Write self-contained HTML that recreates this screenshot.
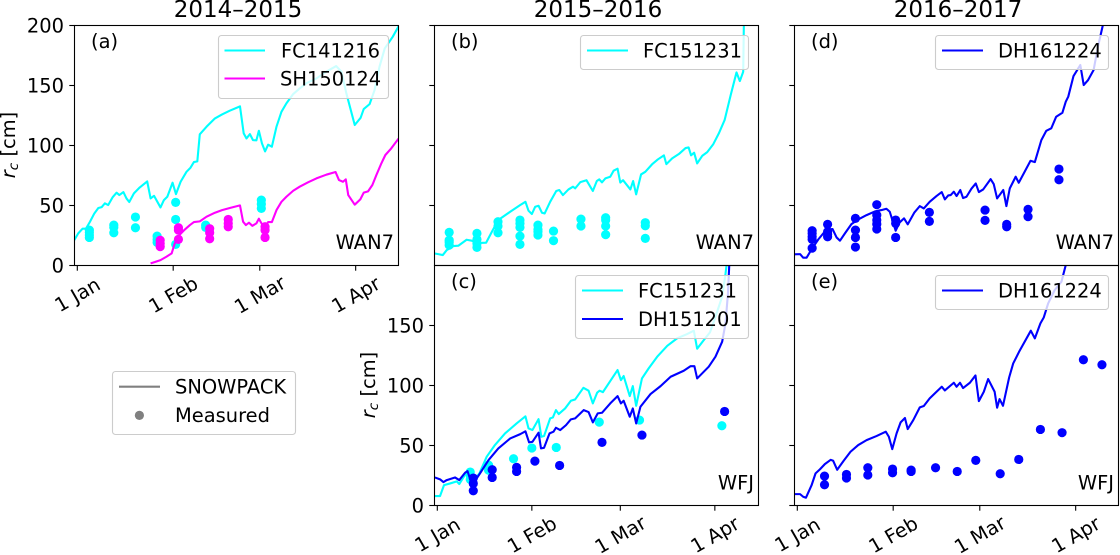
<!DOCTYPE html>
<html lang="en">
<head>
<meta charset="utf-8">
<title>Snow depth comparison</title>
<style>
html,body{margin:0;padding:0;background:#fff;width:1120px;height:555px;overflow:hidden}
svg{display:block}
text{font-family:"DejaVu Sans",sans-serif;font-size:19.44px;fill:#000}
.title{font-size:23px;text-anchor:middle}
.frame{fill:none;stroke:#000;stroke-width:1.1}
.legend-box{fill:#fff;fill-opacity:.8;stroke:#ccc;stroke-width:1.1}
.legend-line{stroke-width:2.1;fill:none}
.site{text-anchor:end}
</style>
</head>
<body>
<svg xmlns="http://www.w3.org/2000/svg" width="1120" height="555" viewBox="0 0 1120 555">
<defs>
<clipPath id="clip-a"><rect x="74.5" y="25.5" width="324" height="240"/></clipPath>
<clipPath id="clip-b"><rect x="434.5" y="25.5" width="324" height="240"/></clipPath>
<clipPath id="clip-d"><rect x="794.5" y="25.5" width="324" height="240"/></clipPath>
<clipPath id="clip-c"><rect x="434.5" y="265.5" width="324" height="240"/></clipPath>
<clipPath id="clip-e"><rect x="794.5" y="265.5" width="324" height="240"/></clipPath>
</defs>

<text class="title" x="238" y="17">2014–2015</text>
<text class="title" x="598" y="17">2015–2016</text>
<text class="title" x="958" y="17">2016–2017</text>

<g id="marks-a" clip-path="url(#clip-a)"></g>
<g id="marks-b" clip-path="url(#clip-b)"></g>
<g id="marks-d" clip-path="url(#clip-d)"></g>
<g id="marks-c" clip-path="url(#clip-c)"></g>
<g id="marks-e" clip-path="url(#clip-e)"></g>

<g id="axes-layer"></g>

<rect class="frame" x="74.5" y="25.5" width="324" height="240"/>
<rect class="frame" x="434.5" y="25.5" width="324" height="240"/>
<rect class="frame" x="794.5" y="25.5" width="324" height="240"/>
<rect class="frame" x="434.5" y="265.5" width="324" height="240"/>
<rect class="frame" x="794.5" y="265.5" width="324" height="240"/>

<text x="91" y="48">(a)</text>
<text x="451" y="48">(b)</text>
<text x="811" y="48">(d)</text>
<text x="451" y="288">(c)</text>
<text x="811" y="288">(e)</text>

<text class="site" x="394" y="249">WAN7</text>
<text class="site" x="754" y="249">WAN7</text>
<text class="site" x="1114" y="249">WAN7</text>
<text class="site" x="754" y="489.5">WFJ</text>
<text class="site" x="1114" y="489.5">WFJ</text>

<text transform="translate(15,145) rotate(-90)" text-anchor="middle"><tspan font-style="italic">r</tspan><tspan font-style="italic" font-size="13.6" dy="3">c</tspan><tspan dy="-3"> [cm]</tspan></text>
<text transform="translate(375,385) rotate(-90)" text-anchor="middle"><tspan font-style="italic">r</tspan><tspan font-style="italic" font-size="13.6" dy="3">c</tspan><tspan dy="-3"> [cm]</tspan></text>

<g>
<rect class="legend-box" x="218.5" y="35.5" width="170" height="63" rx="3"/>
<line class="legend-line" x1="224.5" x2="265" y1="50.5" y2="50.5" stroke="#00ffff"/>
<text x="281" y="57.5">FC141216</text>
<line class="legend-line" x1="224.5" x2="265" y1="78.5" y2="78.5" stroke="#ff00ff"/>
<text x="280" y="85.5">SH150124</text>
</g>
<g>
<rect class="legend-box" x="580.5" y="35.5" width="168" height="34" rx="3"/>
<line class="legend-line" x1="587" x2="628" y1="50.5" y2="50.5" stroke="#00ffff"/>
<text x="643" y="57.5">FC151231</text>
</g>
<g>
<rect class="legend-box" x="935.5" y="35.5" width="173" height="34" rx="3"/>
<line class="legend-line" x1="942" x2="983" y1="50.5" y2="50.5" stroke="#0000ff"/>
<text x="998" y="57.5">DH161224</text>
</g>
<g>
<rect class="legend-box" x="575.5" y="275.5" width="173" height="63" rx="3"/>
<line class="legend-line" x1="582" x2="623" y1="290.5" y2="290.5" stroke="#00ffff"/>
<text x="638" y="297.5">FC151231</text>
<line class="legend-line" x1="582" x2="623" y1="319" y2="319" stroke="#0000ff"/>
<text x="638" y="326">DH151201</text>
</g>
<g>
<rect class="legend-box" x="935.5" y="275.5" width="173" height="34" rx="3"/>
<line class="legend-line" x1="942" x2="983" y1="290.5" y2="290.5" stroke="#0000ff"/>
<text x="998" y="297.5">DH161224</text>
</g>
<g>
<rect class="legend-box" x="112.5" y="371.5" width="183" height="63" rx="3"/>
<line class="legend-line" x1="119" x2="160" y1="386.7" y2="386.7" stroke="#808080"/>
<text x="175" y="393.5">SNOWPACK</text>
<circle cx="139.4" cy="415.4" r="4.6" fill="#808080"/>
<text x="175" y="422">Measured</text>
</g>
</svg>

<script>
const xTickLabels = ['1 Jan', '1 Feb', '1 Mar', '1 Apr'];
const xTickDaysNormal = [0, 31, 59, 90];
const xTickDaysLeap = [0, 31, 60, 91];
const yTickValues = [0, 50, 100, 150, 200];

const aFcDays = [-1,0.3,1.7,2.8,4.1,5.5,6.8,7.9,8.9,10,11.4,12.7,13.6,14.9,15.9,16.8,18.3,20.2,22.6,23.7,24.8,26.9,28,29.1,30.8,31.9,33.4,35.3,36.6,37.7,38.8,39.6,41.8,44.5,46.8,49.3,52.6,53.8,54.7,55.8,56.8,57.9,58.7,59.7,60.7,61.7,62.9,64.4,66,67.6,69.8,71.9,74,77.3,80.5,83.7,85.4,87,89.7,91.6,92.6,94.5,96.1,97.7,99.4,102,103.9];
const aFcVals = [21,26.7,30.6,30.6,36.4,43.3,47.8,48.6,51.7,50.3,56.7,60.6,58.6,61.1,55.8,52.8,60,65,70,55.8,58,48.3,54.4,57.2,68.9,59.4,69.7,78,81.4,86.1,86.7,109.2,115.6,122.5,125.8,128.9,132.5,110,105.8,109.4,104.4,104.2,112.2,101.7,95,100.6,98.9,115.6,128,135,142.8,147.5,151.7,155.8,161.4,166.1,161.4,143.3,117,123,130.3,134.4,146,165.6,180.8,190.6,199.4];
const aShDays = [23.7,25.1,26.9,28.8,30.5,31.5,33.2,34.8,36.4,37.7,39.6,41.8,44.5,46.8,49.3,52.6,53.6,54.5,55.5,56.6,57.9,58.7,59.7,60.7,61.7,62.9,64.4,66,67.6,69.8,71.9,74.6,77.3,80.5,83.5,84.6,85.9,86.8,87.6,89.7,91.5,92.6,94,95.4,96.7,98.3,99.6,101.5,103.9];
const aShVals = [1.7,2.8,4.4,7.2,10,18.3,25.8,30,33.6,36.1,36.7,40.6,43.9,46.1,47.8,50,36.4,33.6,35.6,33,35,38.9,34.4,32.2,36.1,36.1,46.1,53,57.2,62.2,65.6,69.2,72.5,75.6,77.8,71.1,69.7,71.7,58.6,50.6,55,60.6,61.7,67,75.3,85,92,97.5,105.8];
const aFcPointDays = [3.9,3.9,3.9,3.9,11.8,11.8,11.8,18.8,18.8,25.8,25.8,25.8,31.8,31.8,31.8,41.5,41.5,59.5,59.5,59.5];
const aFcPointVals = [29.4,27.5,25.3,23.3,33.6,31.7,27.2,40.3,31.4,24.4,21.7,19.2,52.5,38.3,17.5,33.6,31.7,54.4,51.1,47.5];
const aShPointDays = [26.8,26.8,26.8,32.7,32.7,32.7,42.8,42.8,42.8,48.8,48.8,48.8,60.7,60.7,60.7];
const aShPointVals = [21,18.3,15.6,31.4,29.4,21.7,30.6,27.2,22.2,38.3,35,32.2,32.2,29.4,23.3];

const bFcDays = [-1,0.3,1.8,3.1,5.3,6.9,9.6,11.3,12.9,16,17.9,20,23.9,27.2,28.9,29.9,31,32.1,33.2,34.3,35.2,37,39,40,41.2,43,44.5,45.2,46.9,48.9,51,52.3,53.1,54,55.1,56.7,57.8,59.1,60,60.9,63.3,64.2,65.2,66.8,68.2,70.4,72.3,74.3,75.1,77,79.2,81.4,82.4,83.2,84.2,85.2,86.9,88.5,90.5,92.3,94.2,96.2,98.1,99.2,100.3,100.5,100.8];
const bFcVals = [10,9.4,8.6,12.8,16.1,16.4,21.4,20.6,18.6,18.9,28,37.8,44.7,50.3,53,45.6,42.8,48.9,49.7,43.9,43.3,53,62,62.8,58.6,63.3,65.6,64.2,69.4,71,62,70.3,71.7,69.2,72.5,73.9,78.9,80.6,69,71,63.3,70.3,59.2,75.8,78,84.2,88.3,91.7,84.4,89.2,92.8,97.8,98.3,91.7,93.9,85,91.4,94.4,101.1,110,121.1,142,160.8,153.6,161.4,199,215];
const bFcPointDays = [3.9,3.9,3.9,3.9,13,13,13,13,19.9,19.9,19.9,27.1,27.1,27.1,27.1,27.1,33,33,33,33,38.1,38.1,47.1,47.1,55.2,55.2,55.2,55.2,68.2,68.2,68.2];
const bFcPointVals = [27.5,21.1,19.4,16.9,26.7,21.7,18.3,15,36.4,32.8,27.2,37.8,35,31.7,24.4,17.5,33.6,30,28,25.3,28.6,20.6,38.6,32.8,39.7,37.8,32.8,25.6,35.6,33,22.5];

const dDhDays = [-1,0.9,1.9,3,4.6,6.8,8.4,10,11.4,12.7,13.8,15.4,17.5,19.7,22.4,25.1,27.2,28.8,29.9,31.8,33,34.5,35.7,37.8,39.6,40.9,42.8,45,46.7,47.7,48.8,49.6,50.6,51.5,52.7,53.6,54.7,56.3,57.7,58.7,60.1,62.5,63.5,64.6,66.6,67.6,68.7,70.6,71.6,73.5,75.4,76.8,78.9,80.5,82.1,83.7,85.7,86.8,87.6,89.3,91.5,92.6,94,95.8,97.2,98.8,99.9];
const dDhVals = [9.2,9.4,6.4,6.4,13.3,21.7,26.7,30,30.3,23.3,20.6,26.7,34.4,38.3,41.9,45,46.1,47.2,44.7,28.9,35.6,39.2,34.2,43.9,49.4,47.5,53,57.8,61.1,55,58.3,58.6,61.4,57.8,62.8,56.1,57.2,63.9,68.3,61.1,63.3,71.9,67.8,55.8,62.8,49.4,64.2,73.9,68.9,78,87.2,86.1,104.4,112.2,114.2,123.9,127.2,136.4,140.6,157.8,167,150.3,154.4,162.8,182.2,200.3,212.8];
const dDhPointDays = [4.8,4.8,4.8,4.8,4.8,9.8,9.8,9.8,9.8,18.8,18.8,18.8,18.8,25.7,25.7,25.7,25.7,25.7,31.8,31.8,31.8,42.7,42.7,60.7,60.7,67.7,67.7,74.6,74.6,84.6,84.6];
const dDhPointVals = [28.9,26.7,23.9,21.7,14.4,34.2,28,26,23.9,39.2,29.4,23.3,15.3,50.6,41.9,37.8,34.4,30.3,37.8,35,23.3,44.2,36.7,46.1,37.5,34.2,32.2,46.7,40.6,80.3,71.4];

const cFcDays = [-0.8,0.9,2.2,4.2,6.4,7.2,9.4,10.7,12.2,13.8,16.2,18.9,22.2,26,28.9,29.9,31.2,33.2,34.1,35,37,37.9,38.9,39.8,41.9,43.8,45.2,47.9,49.6,51,52.4,53.2,54.3,56.7,59.1,60.2,61.1,63.1,64.1,65.2,67.1,69.3,72.1,75.4,78.6,81.9,84.1,85.2,87.4,89.4,91.2,93.4,94.5,94.9,95.1];
const cFcVals = [7.8,7.8,16.9,18.3,20,17.8,26.7,29.4,21.7,26.7,40.6,50.3,60,68.3,74.2,64.2,62.8,71.9,57.2,57.8,72.5,73.3,79.4,76.1,80.8,87.2,88.3,98,95.6,85,93.9,95.6,94.4,103.6,112.8,104.4,107.8,91.1,99.4,83,105.8,114.2,123.9,133,139.2,142.8,145.6,130.6,137.8,144.2,157.2,173.9,193,201.7,210];
const cDhDays = [-0.8,0.9,2,3.1,5.8,7.2,9.1,9.9,11.3,12.4,14,16.8,20,23.9,27.2,28.9,30.1,31.2,33.2,34,35,36.8,38.1,38.9,40.3,42.2,43.8,45.2,48,49.6,51,52.6,54,56.7,59.1,60.2,61.1,63.1,64.1,65.2,66.6,69.9,73.2,76.5,80.8,83,84.3,85.2,89,91.2,93.4,94.5,95.3,95.7,96];
const cDhVals = [23.3,21.7,19.4,21.1,23.3,21.1,27.2,28.6,17.8,20.6,26.7,37.8,47.5,55.8,59.4,61.7,52.5,53,60.6,47.5,48,60,61.4,64.7,62.8,66.9,71.7,72.5,79.4,77.8,69.2,76.7,77.2,85,91.1,85,87.2,73.9,80.8,68.3,82.2,92.8,99.4,107.2,112.2,116,116,105.8,115.6,123.9,136.4,151.7,176.7,199,210];
const cFcPointDays = [10.8,10.8,10.8,16.8,16.8,25,31,39,53.1,66.3,93.3];
const cFcPointVals = [27.8,25,21.7,33.6,29.4,38.9,47.8,48.3,69.4,71.1,66.4];
const cDhPointDays = [11.8,11.8,11.8,18,18,26,26,32,40.1,54,67.1,94.2];
const cDhPointVals = [22.8,18.3,12.2,29.7,23.3,31.7,28.3,36.9,33.3,52.5,58.6,78.3];

const eDhDays = [-1,0.9,1.9,2.8,4.6,5.9,7.3,8.9,10.8,11.6,12.9,14.9,17.2,19.7,22.4,25.6,28.6,29.6,30.7,32.1,33.4,34.8,35.7,37.5,39.6,40.9,42.8,44.8,46.7,47.7,50.6,51.5,52.6,53.6,55.8,57.6,58.7,60.3,61.7,63.8,64.6,65.4,66.5,68.5,69.8,71.7,75.5,76.8,78.6,79.7,81.1,83.2,85.4,86.8,87.5];
const eDhVals = [9.4,9.4,7.2,6.4,16.7,26.7,30,34.4,38,37.2,29.7,36.9,44.7,50.3,54.4,57.8,61.4,57.2,46.9,60,69.2,72.8,63.6,71.1,81.7,82.8,89.2,94.2,98.9,95.8,102.2,98.9,102.2,97.8,102.2,108.3,86.9,94.7,105.3,94.7,81.4,88.6,83,106.7,118.3,128,145.6,139.2,151.7,156.7,168.3,179.4,186.4,200.3,207];
const eDhPointDays = [8.8,8.8,15.9,15.9,22.8,22.8,30.8,30.8,36.8,36.8,44.7,51.7,57.7,65.6,71.6,78.6,85.6,92.5,98.5];
const eDhPointVals = [24.4,17.2,25.8,22.8,31.4,25.3,30.3,27.2,29.4,28.3,31.4,28.3,37.5,26.4,38.3,63.3,60.6,121.4,117.2];

const SVG_NS = 'http://www.w3.org/2000/svg';

function makeXAxis(tickPixelOfJan1, pxPerDay) {
  return function (day) { return tickPixelOfJan1 + day * pxPerDay; };
}
function makeYAxis(zeroPixel) {
  return function (value) { return zeroPixel - value * 1.2; };
}

function drawLine(groupId, days, vals, color, xAxis, yAxis, name) {
  const points = days.map(function (d, i) {
    return xAxis(d).toFixed(2) + ',' + yAxis(vals[i]).toFixed(2);
  }).join(' ');
  const el = document.createElementNS(SVG_NS, 'polyline');
  el.setAttribute('points', points);
  el.setAttribute('fill', 'none');
  el.setAttribute('stroke', color);
  el.setAttribute('stroke-width', '2.1');
  el.setAttribute('stroke-linejoin', 'round');
  
  
  document.getElementById(groupId).appendChild(el);
}

function drawPoints(groupId, days, vals, color, xAxis, yAxis, name) {
  days.forEach(function (d, i) {
    const el = document.createElementNS(SVG_NS, 'circle');
    el.setAttribute('cx', xAxis(d).toFixed(2));
    el.setAttribute('cy', yAxis(vals[i]).toFixed(2));
    el.setAttribute('r', '4.6');
    el.setAttribute('fill', color);
    
    
    document.getElementById(groupId).appendChild(el);
  });
}

function drawXTicks(days, xAxis, bottom, withLabels) {
  const layer = document.getElementById('axes-layer');
  days.forEach(function (d, i) {
    if (!withLabels) return;
    const x = xAxis(d);
    const tick = document.createElementNS(SVG_NS, 'line');
    tick.setAttribute('x1', x);
    tick.setAttribute('x2', x);
    tick.setAttribute('y1', bottom);
    tick.setAttribute('y2', bottom + 5.2);
    tick.setAttribute('stroke', '#000');
    tick.setAttribute('stroke-width', '1.1');
    
    
    layer.appendChild(tick);
    const label = document.createElementNS(SVG_NS, 'text');
    label.textContent = xTickLabels[i];
    const ty = bottom + 29;
    label.setAttribute('transform', 'translate(' + x + ',' + ty + ') rotate(-30)');
    label.setAttribute('text-anchor', 'middle');
    label.setAttribute('dy', '0.36em');
    
    
    layer.appendChild(label);
  });
}

function drawYTicks(values, yAxis, left, withLabels) {
  const layer = document.getElementById('axes-layer');
  values.forEach(function (v) {
    const y = Math.round(yAxis(v) - 0.5) + 0.5;
    const tick = document.createElementNS(SVG_NS, 'line');
    tick.setAttribute('x1', left - 5.2);
    tick.setAttribute('x2', left);
    tick.setAttribute('y1', y);
    tick.setAttribute('y2', y);
    tick.setAttribute('stroke', '#000');
    tick.setAttribute('stroke-width', '1.1');
    
    
    layer.appendChild(tick);
    if (withLabels) {
      const label = document.createElementNS(SVG_NS, 'text');
      label.textContent = String(v);
      label.setAttribute('x', left - 10.5);
      label.setAttribute('y', y);
      label.setAttribute('dy', '0.36em');
      label.setAttribute('text-anchor', 'end');
      
      
      layer.appendChild(label);
    }
  });
}

const xA = makeXAxis(77.3, 3.093);
const xB = makeXAxis(437.3, 3.05);
const xD = makeXAxis(797.3, 3.093);
const xC = makeXAxis(437.3, 3.05);
const xE = makeXAxis(797.3, 3.093);
const yTop = makeYAxis(265.4);
const yBottom = makeYAxis(505.4);
const CYAN = '#00ffff';
const MAGENTA = '#ff00ff';
const BLUE = '#0000ff';

drawLine('marks-a', aFcDays, aFcVals, CYAN, xA, yTop, 'line-fc141216');
drawPoints('marks-a', aFcPointDays, aFcPointVals, CYAN, xA, yTop, 'point-fc141216');
drawLine('marks-a', aShDays, aShVals, MAGENTA, xA, yTop, 'line-sh150124');
drawPoints('marks-a', aShPointDays, aShPointVals, MAGENTA, xA, yTop, 'point-sh150124');

drawLine('marks-b', bFcDays, bFcVals, CYAN, xB, yTop, 'line-fc151231-wan7');
drawPoints('marks-b', bFcPointDays, bFcPointVals, CYAN, xB, yTop, 'point-fc151231-wan7');

drawLine('marks-d', dDhDays, dDhVals, BLUE, xD, yTop, 'line-dh161224-wan7');
drawPoints('marks-d', dDhPointDays, dDhPointVals, BLUE, xD, yTop, 'point-dh161224-wan7');

drawLine('marks-c', cFcDays, cFcVals, CYAN, xC, yBottom, 'line-fc151231-wfj');
drawPoints('marks-c', cFcPointDays, cFcPointVals, CYAN, xC, yBottom, 'point-fc151231-wfj');
drawLine('marks-c', cDhDays, cDhVals, BLUE, xC, yBottom, 'line-dh151201');
drawPoints('marks-c', cDhPointDays, cDhPointVals, BLUE, xC, yBottom, 'point-dh151201');

drawLine('marks-e', eDhDays, eDhVals, BLUE, xE, yBottom, 'line-dh161224-wfj');
drawPoints('marks-e', eDhPointDays, eDhPointVals, BLUE, xE, yBottom, 'point-dh161224-wfj');

drawXTicks(xTickDaysNormal, xA, 265.5, true);
drawXTicks(xTickDaysLeap, xC, 505.5, true);
drawXTicks(xTickDaysNormal, xE, 505.5, true);

drawYTicks(yTickValues, yTop, 74.5, true);
drawYTicks(yTickValues.slice(1), yTop, 434.5, false);
drawYTicks(yTickValues.slice(1), yTop, 794.5, false);
drawYTicks(yTickValues.slice(0, 4), yBottom, 434.5, true);
drawYTicks(yTickValues.slice(0, 4), yBottom, 794.5, false);
</script>
</body>
</html>
